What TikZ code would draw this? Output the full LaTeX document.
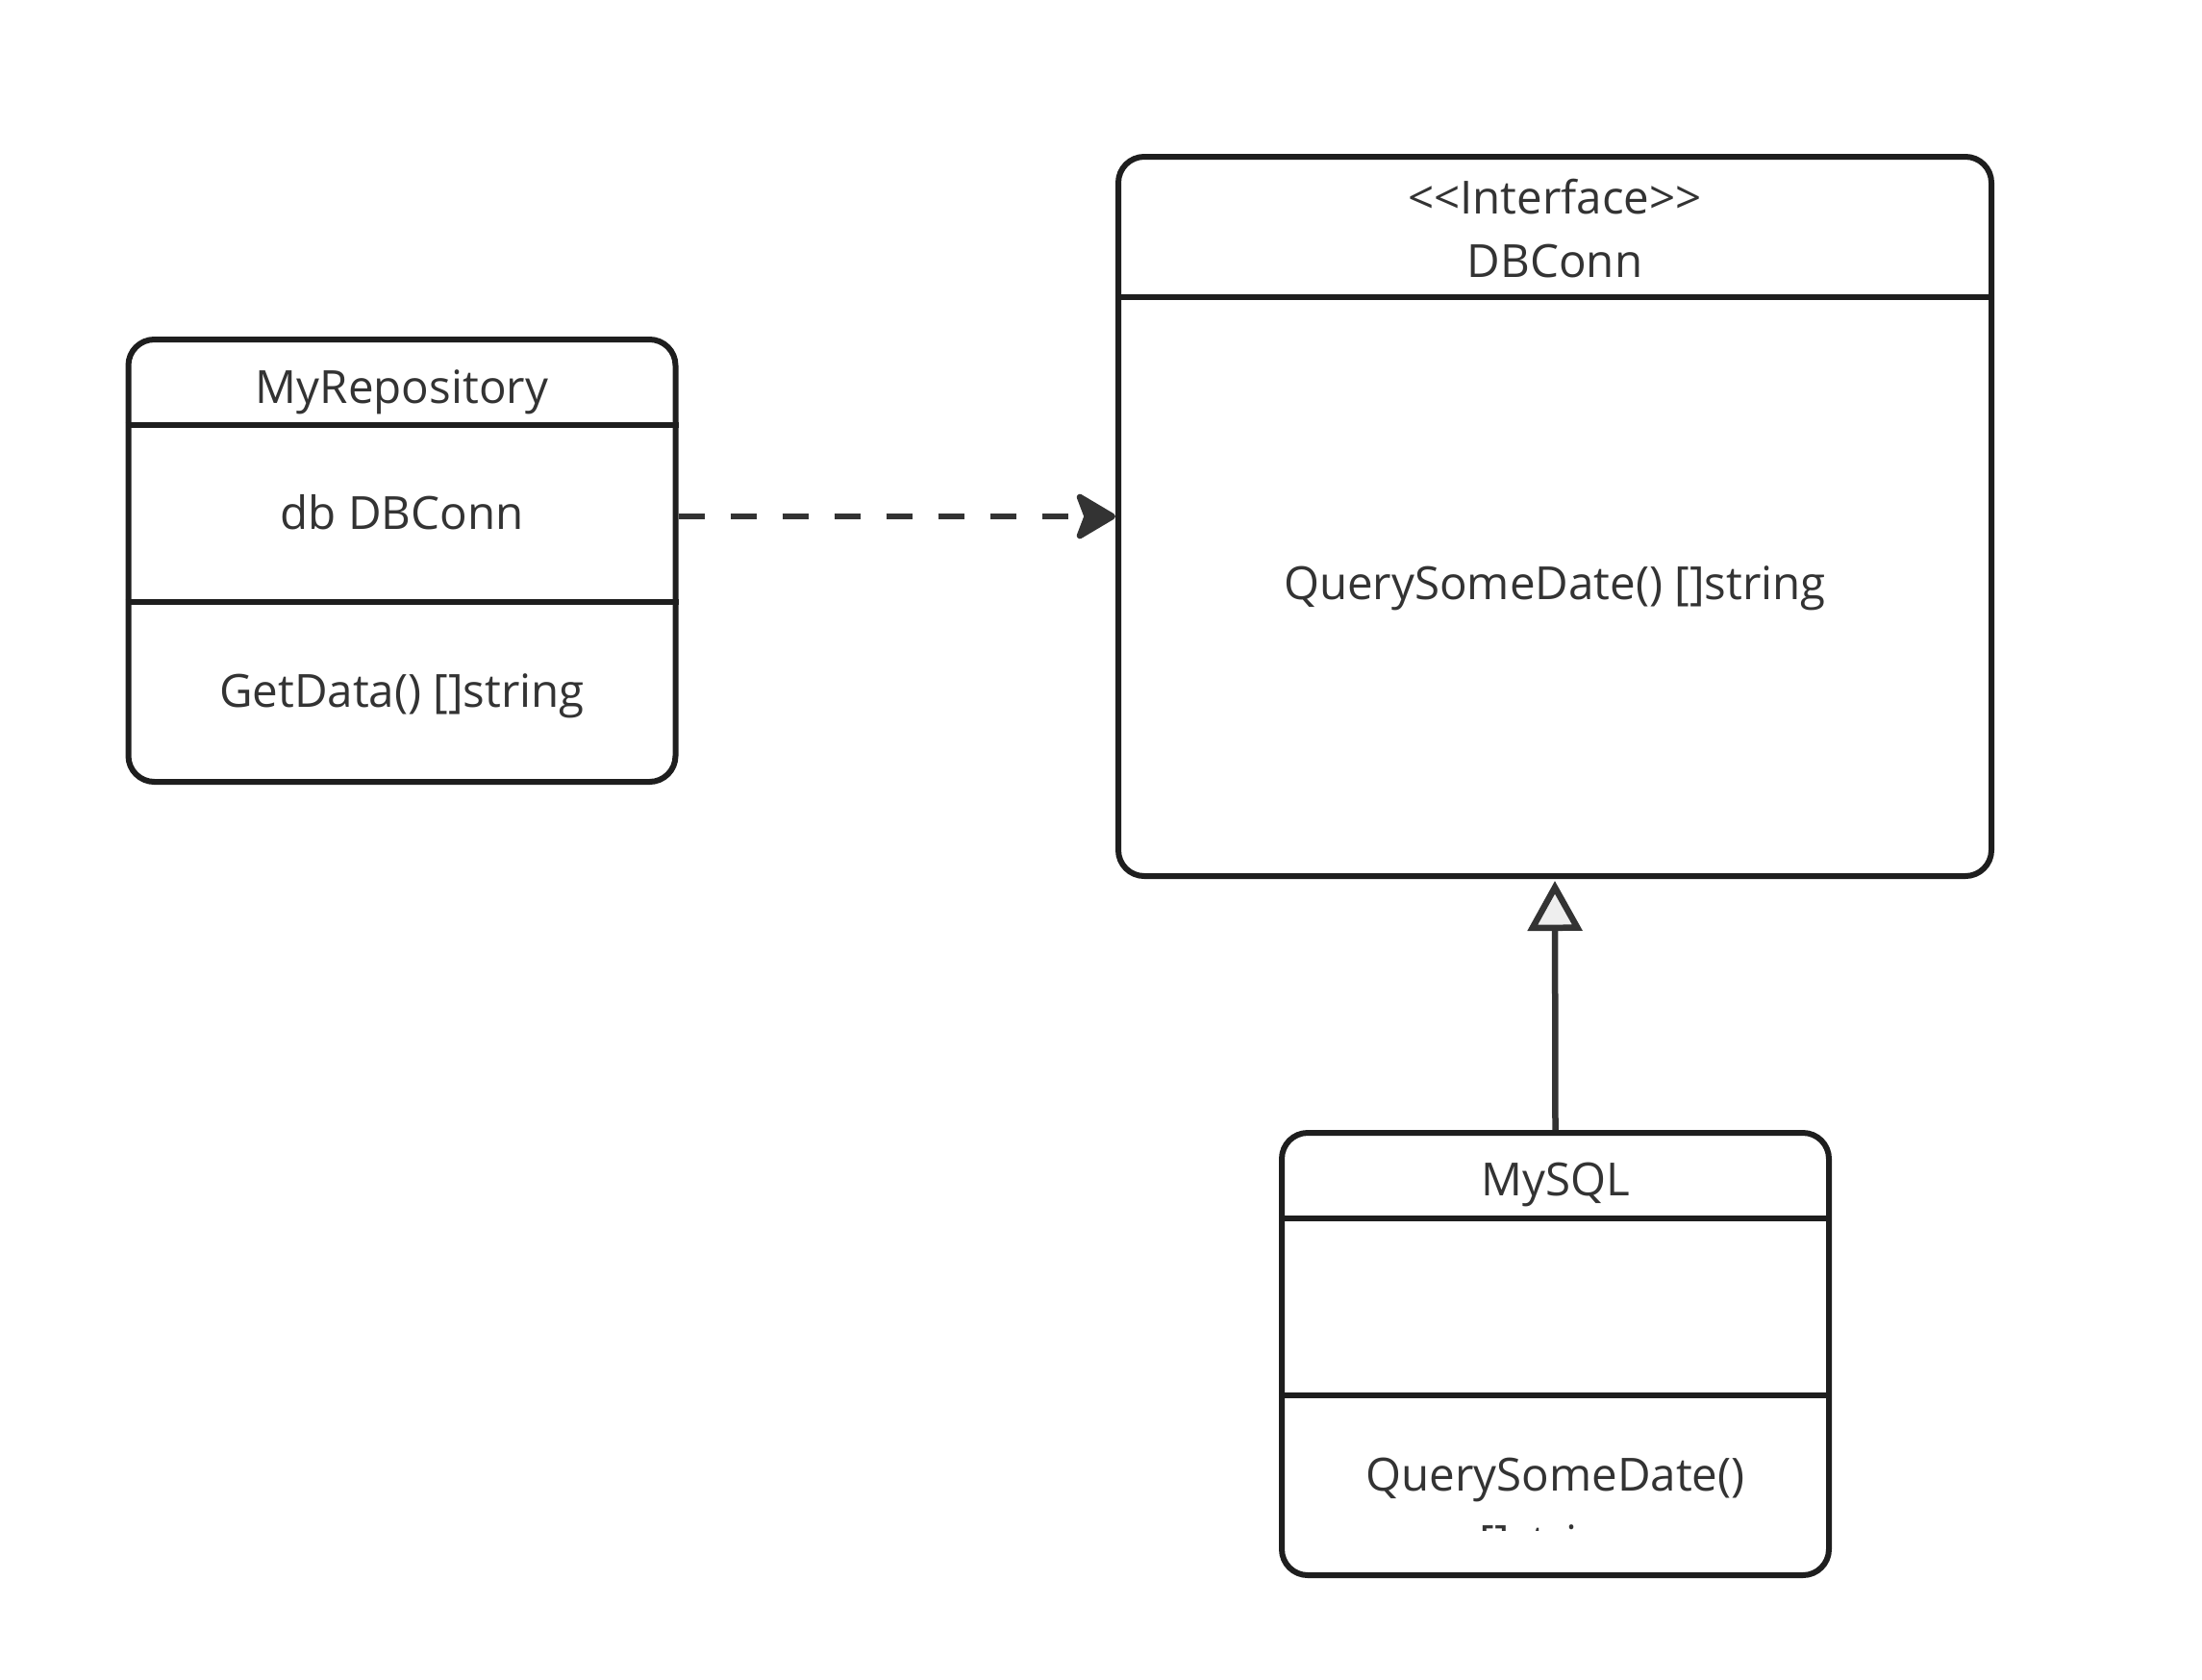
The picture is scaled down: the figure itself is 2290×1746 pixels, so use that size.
\documentclass[tikz,border=0pt]{standalone}
\usepackage{fontspec}
\setmainfont{Open Sans}
\usepackage{xcolor}
\usepackage{tikz}
\usetikzlibrary{arrows.meta,positioning,calc}
\definecolor{umlink}{HTML}{1E1E1E}
\definecolor{umltext}{HTML}{333333}
\definecolor{umlhead}{HTML}{EEEEEE}

\begin{document}
\begin{tikzpicture}[x=1pt,y=-1pt,
  classbox/.style={draw=umlink,line width=6pt,rounded corners=27pt,fill=white,inner sep=0pt},
  rule/.style={draw=umlink,line width=6pt},
  lab/.style={font=\fontsize{47.5}{57}\selectfont,text=umltext,inner sep=0pt,anchor=base},
  dep/.style={draw=umltext,line width=6.5pt,dash pattern=on 27pt off 27pt,
    -{Stealth[length=46pt,width=54pt,inset=10pt,round]}},
  impl/.style={draw=umltext,line width=6.5pt,
    -{Triangle[open,fill=umlhead,length=52pt,width=56pt,line join=miter]}}
]
\useasboundingbox (0,0) rectangle (2290,1746);
% class boxes
\node[classbox,minimum width=569pt,minimum height=460pt] (repo) at (418,583) {};
\node[classbox,minimum width=908pt,minimum height=748pt] (conn) at (1617,537) {};
\node[classbox,minimum width=569pt,minimum height=460pt] (mysql) at (1617.5,1408) {};
\foreach \b/\d in {repo/92,repo/276,conn/149,mysql/92,mysql/276}{\draw[rule] ($(\b.north west)+(0,\d)$)--($(\b.north east)+(0,\d)$);}
% texts
\node[lab] (repo-name) at (418,419) {MyRepository};
\node[lab] (repo-attr) at (418,550) {db DBConn};
\node[lab] (repo-op) at (418,735) {GetData() []string};
\node[lab] (conn-stereo) at (1617,222) {<\kern0pt<Interface>\kern0pt>};
\node[lab] (conn-name) at (1617,288) {DBConn};
\node[lab] (conn-op) at (1617,623) {QuerySomeDate() []string};
\node[lab] (mysql-name) at (1617.5,1243) {MySQL};
\node[lab] (mysql-op) at (1617.5,1550) {QuerySomeDate()};
\begin{scope}
\clip (1340,1560) rectangle (1895,1591);
\node[lab] (mysql-ret) at (1617.5,1620) {[]string};
\end{scope}
% relations
\draw[dep] (repo.east |- conn.west)--(conn.west);
\draw[impl] (mysql.north)--([yshift=-2pt]conn.south);
\end{tikzpicture}
\end{document}
